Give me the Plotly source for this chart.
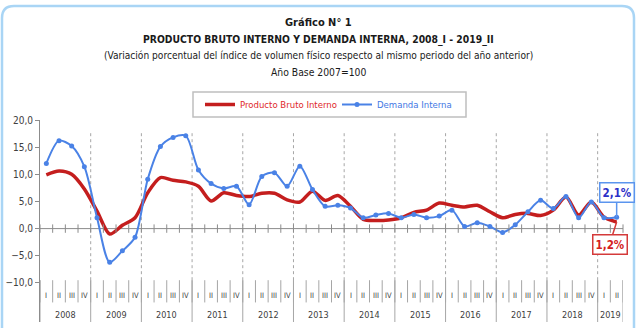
import plotly.graph_objects as go

years = ["2008", "2009", "2010", "2011", "2012", "2013", "2014", "2015",
         "2016", "2017", "2018", "2019"]
quarters = ["I", "II", "III", "IV"]

pbi = [9.9, 10.6, 10.0, 7.3,
       3.2, -1.0, 0.6, 2.0,
       6.6, 9.4, 8.9, 8.6,
       7.8, 5.1, 6.6, 6.1,
       5.9, 6.5, 6.5, 5.3,
       4.9, 6.9, 5.2, 6.1,
       4.1, 1.7, 1.5, 1.6,
       2.0, 3.0, 3.4, 4.7,
       4.3, 4.0, 4.3, 3.1,
       2.0, 2.6, 2.8, 2.4,
       3.4, 5.8, 2.5, 4.9,
       2.1, 1.2]
demanda = [12.0, 16.2, 15.2, 11.4,
           2.0, -6.2, -4.1, -1.6,
           9.1, 15.1, 16.8, 17.1,
           10.8, 8.3, 7.4, 7.8,
           4.4, 9.6, 10.3, 7.8,
           11.5, 7.2, 4.1, 4.3,
           3.8, 2.0, 2.5, 2.8,
           2.0, 2.6, 2.0, 2.3,
           3.4, 0.4, 1.1, 0.4,
           -0.7, 0.7, 3.1, 5.2,
           3.7, 5.9, 2.0, 4.9,
           2.0, 2.1]

# period labels
periods = []
for y in years:
    for q in quarters:
        periods.append((y, q))
periods = periods[:len(pbi)]
n = len(periods)
xs = [i + 0.5 for i in range(n)]

W, H = 637, 328
ML, MR, MT, MB = 40, 14, 120, 6
YMIN, YMAX = -17.2, 20.0
PW, PH = W - ML - MR, H - MT - MB


def px(x):
    return (x - ML) / PW


def py(y):
    return (H - MB - y) / PH


FONT = "Liberation Sans Narrow, Arial Narrow, DejaVu Sans Condensed, sans-serif"
RED = "#C41E1E"
BLUE = "#4A82E6"
GRID = "#A6A6A6"
AXIS = "#8C8C8C"

fig = go.Figure()

fig.add_trace(go.Scatter(
    x=xs, y=pbi, mode="lines", line=dict(color=RED, width=3.5, shape="spline", smoothing=0.8),
    name="<span style='color:#E0282A'>Producto Bruto Interno</span>", hoverinfo="skip"))
fig.add_trace(go.Scatter(
    x=xs, y=demanda, mode="lines+markers",
    line=dict(color=BLUE, width=2, shape="spline", smoothing=0.8),
    marker=dict(color=BLUE, size=5),
    name="<span style='color:#3F78E4'>Demanda Interna</span>", hoverinfo="skip"))

# tick marks on the zero axis line (quarter boundaries)
fig.add_trace(go.Scatter(
    x=list(range(n + 1)), y=[0] * (n + 1), mode="markers",
    marker=dict(symbol="line-ns-open", size=6, color=AXIS, line=dict(color=AXIS, width=1)),
    showlegend=False, hoverinfo="skip", cliponaxis=False))

shapes = []
# zero axis line
shapes.append(dict(type="line", xref="x", yref="y", x0=0, x1=n, y0=0, y1=0,
                   line=dict(color=AXIS, width=1), layer="below"))
# year boundaries
nyears = len(years)
bounds = [4 * k for k in range(nyears)] + [n]
for b in bounds:
    if 0 < b < n:
        shapes.append(dict(type="line", xref="x", yref="y", x0=b, x1=b, y0=-9.5, y1=18,
                           line=dict(color=GRID, width=1, dash="dot"), layer="below"))
    shapes.append(dict(type="line", xref="x", yref="y", x0=b, x1=b, y0=-9.5, y1=YMIN,
                       line=dict(color=GRID, width=1), layer="below"))
# quarter separators
for i in range(n + 1):
    shapes.append(dict(type="line", xref="x", yref="y", x0=i, x1=i, y0=-9.5, y1=-13.6,
                       line=dict(color=GRID, width=1), layer="below"))

# legend box
shapes.append(dict(type="rect", xref="paper", yref="paper",
                   x0=px(193), x1=px(466), y0=py(117), y1=py(92),
                   line=dict(color="#BFBFBF", width=1.5), fillcolor="rgba(0,0,0,0)"))

# outer rounded border
r = 12
x0p, x1p, y0p, y1p = 2, 634, 6, 340
path = (f"M {px(x0p)},{py(y1p)} L {px(x0p)},{py(y0p + r)} "
        f"Q {px(x0p)},{py(y0p)} {px(x0p + r)},{py(y0p)} "
        f"L {px(x1p - r)},{py(y0p)} Q {px(x1p)},{py(y0p)} {px(x1p)},{py(y0p + r)} "
        f"L {px(x1p)},{py(y1p)}")
shapes.append(dict(type="path", xref="paper", yref="paper", path=path,
                   line=dict(color="#A9D5F5", width=2.5)))

annotations = []
# quarter labels
for i, (yr, q) in enumerate(periods):
    annotations.append(dict(x=i + 0.5, y=-12.3, xref="x", yref="y", text=q, showarrow=False,
                            font=dict(family=FONT, size=7.5, color="#404040")))
# year labels
for k, yr in enumerate(years):
    start = 4 * k
    end = min(4 * k + 4, n)
    annotations.append(dict(x=(start + end) / 2, y=-16.0, xref="x", yref="y", text=yr,
                            showarrow=False, font=dict(family=FONT, size=9, color="#404040")))

# titles
titles = [
    ("<b>Gráfico N° 1</b>", 22, 11),
    ("<b>PRODUCTO BRUTO INTERNO Y DEMANDA INTERNA, 2008_I - 2019_II</b>", 39, 10.3),
    ("(Variación porcentual del índice de volumen físico respecto al mismo periodo del año anterior)", 56, 10.1),
    ("Año Base 2007=100", 72, 10.3),
]
for t, yy, fs in titles:
    annotations.append(dict(x=px(318.5), y=py(yy), xref="paper", yref="paper", text=t,
                            showarrow=False, xanchor="center", yanchor="middle",
                            font=dict(family=FONT, size=fs, color="#1A1A1A")))

# callouts for the last values
annotations.append(dict(x=xs[-1], y=demanda[-1], xref="x", yref="y",
                        text="<b>%s%%</b>" % f"{demanda[-1]:.1f}".replace(".", ","),
                        showarrow=True, arrowhead=0, arrowcolor="#5B95EE", arrowwidth=1.5,
                        ax=0, ay=-25, bordercolor="#5B95EE", borderwidth=1.5, borderpad=2,
                        bgcolor="white", font=dict(family=FONT, size=11.5, color="#2B2FC8")))
annotations.append(dict(x=xs[-1], y=pbi[-1], xref="x", yref="y",
                        text="<b>%s%%</b>" % f"{pbi[-1]:.1f}".replace(".", ","),
                        showarrow=True, arrowhead=0, arrowcolor="#D43A3A", arrowwidth=1.5,
                        ax=-7, ay=22, bordercolor="#D43A3A", borderwidth=1.5, borderpad=2,
                        bgcolor="white", font=dict(family=FONT, size=11.5, color="#D42020")))

fig.update_layout(
    width=W, height=H,
    margin=dict(l=ML, r=MR, t=MT, b=MB, pad=0),
    paper_bgcolor="white", plot_bgcolor="white",
    separators=", ",
    font=dict(family=FONT, size=10, color="#404040"),
    shapes=shapes, annotations=annotations,
    showlegend=True,
    legend=dict(orientation="h", x=px(200), y=py(104.5), xanchor="left", yanchor="middle",
                bgcolor="rgba(0,0,0,0)", borderwidth=0, itemwidth=30,
                entrywidth=92, entrywidthmode="pixels",
                font=dict(family=FONT, size=9.5)),
    xaxis=dict(range=[0, n], showgrid=False, zeroline=False, showline=False,
               showticklabels=False, ticks="", fixedrange=True),
    yaxis=dict(range=[YMIN, YMAX], tickvals=[-10, -5, 0, 5, 10, 15, 20], tickformat=".1f",
               showgrid=False, zeroline=False, showline=True, linecolor=AXIS, linewidth=1,
               ticks="outside", ticklen=4, tickcolor=AXIS,
               tickfont=dict(family=FONT, size=10, color="#404040"), fixedrange=True),
)

fig.write_html("out.html")
